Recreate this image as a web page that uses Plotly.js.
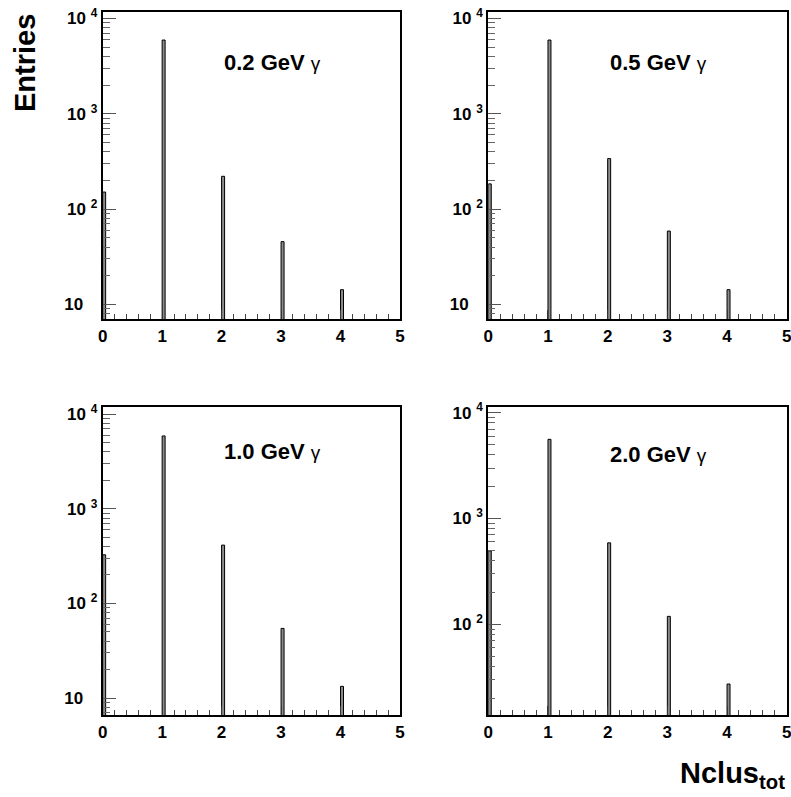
<!DOCTYPE html>
<html>
<head>
<meta charset="utf-8">
<script src="https://cdn.plot.ly/plotly-3.0.1.min.js"></script>
<style>html,body{margin:0;padding:0;background:#fff;}#plot{width:791px;height:797px;}</style>
</head>
<body>
<div id="plot"></div>
<script>
// ---- data ----
const nclus = [0, 1, 2, 3, 4];
const entries02 = [151, 5930, 221, 45.6, 14.3];
const entries05 = [184, 5930, 339, 58.9, 14.3];
const entries10 = [327, 5900, 414, 54.5, 13.3];
const entries20 = [494, 5600, 589, 119, 27.3];
const panelLabels = ['0.2 GeV', '0.5 GeV', '1.0 GeV', '2.0 GeV'];
const xTickVals = [0, 1, 2, 3, 4, 5];
const xTickText = ['0', '1', '2', '3', '4', '5'];
const yTickVals = [10, 100, 1000, 10000];
const yTickText = ['10\u00a0\u00a0\u00a0', '10 <sup>2</sup>', '10 <sup>3</sup>', '10 <sup>4</sup>'];
const binWidth = 0.05;

const series = [entries02, entries05, entries10, entries20];
const yRanges = [[0.845, 4.07], [0.845, 4.07], [0.816, 4.074], [1.139, 4.051]];
const xDomains = [[0.1298, 0.5057], [0.6173, 0.9946], [0.1298, 0.5057], [0.6173, 0.9946]];
const yDomains = [[0.5994, 0.9853], [0.5994, 0.9853], [0.1023, 0.4890], [0.1023, 0.4890]];
const labelY = [0.835, 0.835, 0.858, 0.846];

const minorY = [];
for (let k = 0; k <= 4; k++) for (let m = 2; m <= 9; m++) minorY.push(m * Math.pow(10, k));
const minorX = [];
for (let i = 0; i <= 25; i++) { const v = +(i * 0.2).toFixed(1); if (Math.abs(v - Math.round(v)) > 1e-6) minorX.push(v); }

const fam = '"Liberation Sans", Arial, Helvetica, sans-serif';
const tickFont = {family: fam, color: '#000', size: 17, weight: 'bold'};
const traces = [];
const layout = {
  width: 791, height: 797,
  margin: {l: 0, r: 0, t: 0, b: 0},
  paper_bgcolor: '#fff', plot_bgcolor: 'rgba(0,0,0,0)',
  showlegend: false,
  bargap: 0,
  font: {family: fam, color: '#000', size: 17},
  annotations: []
};

series.forEach((vals, i) => {
  const n = i + 1;
  const xa = n === 1 ? 'x' : 'x' + n;
  const ya = n === 1 ? 'y' : 'y' + n;
  const xm = 'x' + (n + 4), ym = 'y' + (n + 4);
  traces.push({
    type: 'bar', x: nclus, y: vals, xaxis: xa, yaxis: ya,
    width: binWidth, offset: 0,
    marker: {color: '#8c8c8c', line: {color: '#000', width: 1}},
    hoverinfo: 'x+y'
  });
  // empty trace so that the minor-tick overlay axes are drawn
  traces.push({type: 'scatter', mode: 'markers', x: [], y: [], xaxis: xm, yaxis: ym, hoverinfo: 'skip'});

  const xk = n === 1 ? 'xaxis' : 'xaxis' + n;
  const yk = n === 1 ? 'yaxis' : 'yaxis' + n;
  layout[xk] = {
    domain: xDomains[i], anchor: ya, range: [0, 5],
    showline: true, linecolor: '#000', linewidth: 2, mirror: true,
    showgrid: false, zeroline: false,
    tickmode: 'array', tickvals: xTickVals, ticktext: xTickText,
    ticks: 'inside', ticklen: 9, tickwidth: 1, tickcolor: '#333',
    tickfont: tickFont, ticklabeloverflow: 'allow'
  };
  layout[yk] = {
    domain: yDomains[i], anchor: xa, type: 'log', range: yRanges[i],
    showline: true, linecolor: '#000', linewidth: 2, mirror: true,
    showgrid: false, zeroline: false,
    tickmode: 'array', tickvals: yTickVals, ticktext: yTickText,
    ticks: 'inside', ticklen: 13, tickwidth: 1, tickcolor: '#555',
    tickfont: tickFont, ticklabeloverflow: 'allow'
  };
  layout['xaxis' + (n + 4)] = {
    domain: xDomains[i], overlaying: xa, anchor: ya, range: [0, 5],
    showline: false, showgrid: false, zeroline: false, showticklabels: false,
    tickmode: 'array', tickvals: minorX, ticks: 'inside', ticklen: 5, tickwidth: 1, tickcolor: '#444'
  };
  layout['yaxis' + (n + 4)] = {
    domain: yDomains[i], overlaying: ya, anchor: xa, type: 'log', range: yRanges[i], side: 'left',
    showline: false, showgrid: false, zeroline: false, showticklabels: false,
    tickmode: 'array', tickvals: minorY, ticks: 'inside', ticklen: 7, tickwidth: 1, tickcolor: '#666'
  };
  layout.annotations.push({
    xref: xa + ' domain', yref: ya + ' domain', x: 0.40, y: labelY[i],
    xanchor: 'left', yanchor: 'middle', showarrow: false,
    text: '<b>' + panelLabels[i] + '</b> <span style="font-weight:normal;font-size:19px">γ</span>',
    font: {family: fam, color: '#000', size: 22}
  });
});

layout.annotations.push({
  xref: 'paper', yref: 'paper', x: 25 / 791, y: 1 - 63 / 797,
  xanchor: 'center', yanchor: 'middle', textangle: -90, showarrow: false,
  text: '<b>Entries</b>', font: {family: fam, color: '#000', size: 29}
});
layout.annotations.push({
  xref: 'paper', yref: 'paper', x: 787 / 791, y: 1 - 775 / 797,
  xanchor: 'right', yanchor: 'middle', showarrow: false,
  text: '<b>Nclus<sub>tot</sub></b>', font: {family: fam, color: '#000', size: 29}
});

Plotly.newPlot('plot', traces, layout, {staticPlot: true, displayModeBar: false});
</script>
</body>
</html>
